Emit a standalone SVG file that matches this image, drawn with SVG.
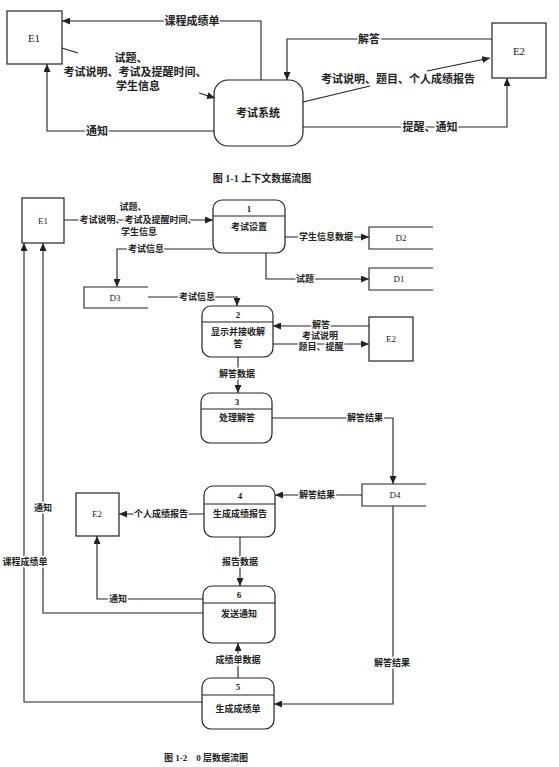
<svg xmlns="http://www.w3.org/2000/svg" width="559" height="767" viewBox="0 0 559 767">
<style>
rect{fill:none;stroke:#222;stroke-width:1.2}
.c{fill:none;stroke:#222;stroke-width:1.1}
text{font-family:"Liberation Serif","Noto Sans CJK SC",serif;font-weight:bold;fill:#222;text-anchor:middle;dominant-baseline:central}
.s{font-size:9px}
.m{font-size:11px}
.n{font-weight:normal}
.h{stroke:#fff;stroke-width:3;paint-order:stroke;stroke-linejoin:round}
</style>
<defs>
<marker id="a" markerWidth="8" markerHeight="7" refX="8" refY="3.5" orient="auto" markerUnits="userSpaceOnUse">
<path d="M0,0 L8,3.5 L0,7 z" fill="#222"/>
</marker>
</defs>

<!-- Figure 1-1 -->
<g id="top-E1"><rect x="7" y="11" width="55" height="53"/><text class="m n" x="34" y="38">E1</text></g>
<g id="top-system"><rect x="214" y="80" width="89" height="66" rx="14"/><text class="m" x="258" y="113">考试系统</text></g>
<g id="top-E2"><rect x="492" y="23" width="54" height="55"/><text class="m n" x="519" y="51">E2</text></g>

<g id="top-connectors">
<path class="c" d="M261,80 V21 H62" marker-end="url(#a)"/>
<path class="c" d="M62,48 L78,53"/>
<path class="c" d="M199,93 L215,98" marker-end="url(#a)"/>
<path class="c" d="M214,131 H47 V64" marker-end="url(#a)"/>
<path class="c" d="M492,39 H287 V80" marker-end="url(#a)"/>
<path class="c" d="M303,102 L370,86"/>
<path class="c" d="M427,71 L490,58" marker-end="url(#a)"/>
<path class="c" d="M303,127 H507 V78" marker-end="url(#a)"/>
<text class="m h" x="192" y="21">课程成绩单</text>
<text class="m" x="131" y="58">试题、</text>
<text class="m" x="135" y="72">考试说明、考试及提醒时间、</text>
<text class="m" x="138" y="86">学生信息</text>
<text class="m h" x="97" y="131">通知</text>
<text class="m h" x="369" y="39">解答</text>
<text class="m" x="398" y="79">考试说明、题目、个人成绩报告</text>
<text class="m h" x="430" y="127">提醒、通知</text>
</g>
<text x="262" y="178" style="font-size:10px">图 1-1 上下文数据流图</text>

<!-- Figure 1-2 -->
<g id="E1"><rect x="22" y="198" width="42" height="45"/><text class="s n" x="43" y="221">E1</text></g>
<g id="E2a"><rect x="369" y="317" width="44" height="44"/><text class="s n" x="391" y="339">E2</text></g>
<g id="E2b"><rect x="76" y="493" width="43" height="43"/><text class="s n" x="97" y="514">E2</text></g>

<g id="P1"><rect x="213" y="200" width="72" height="53" rx="9"/><path class="c" d="M213,216 H285"/><text class="s" x="249" y="209">1</text><text class="s" x="249" y="227">考试设置</text></g>
<g id="P2"><rect x="202" y="306" width="71" height="51" rx="9"/><path class="c" d="M202,322 H273"/><text class="s" x="238" y="315">2</text><text class="s" x="238" y="332">显示并接收解</text><text class="s" x="238" y="344">答</text></g>
<g id="P3"><rect x="201" y="393" width="71" height="50" rx="9"/><path class="c" d="M201,409 H272"/><text class="s" x="237" y="402">3</text><text class="s" x="237" y="418">处理解答</text></g>
<g id="P4"><rect x="204" y="486" width="71" height="51" rx="9"/><path class="c" d="M204,504 H275"/><text class="s" x="240" y="496">4</text><text class="s" x="240" y="514">生成成绩报告</text></g>
<g id="P6"><rect x="203" y="586" width="72" height="57" rx="9"/><path class="c" d="M203,603 H275"/><text class="s" x="239" y="595">6</text><text class="s" x="239" y="614">发送通知</text></g>
<g id="P5"><rect x="202" y="678" width="72" height="51" rx="9"/><path class="c" d="M202,695 H274"/><text class="s" x="238" y="687">5</text><text class="s" x="238" y="709">生成成绩单</text></g>

<g id="D2"><path class="c" d="M433,227 H369 V249 H433"/><text class="s n" x="401" y="238">D2</text></g>
<g id="D1"><path class="c" d="M433,268 H369 V290 H433"/><text class="s n" x="399" y="279">D1</text></g>
<g id="D3"><path class="c" d="M148,287 H84 V308 H148"/><text class="s n" x="115" y="298">D3</text></g>
<g id="D4"><path class="c" d="M426,484 H362 V506 H426"/><text class="s n" x="395" y="495">D4</text></g>

<g id="connectors">
<path class="c" d="M64,220 H213" marker-end="url(#a)"/>
<path class="c" d="M213,249 H117 V287" marker-end="url(#a)"/>
<path class="c" d="M285,237 H369" marker-end="url(#a)"/>
<path class="c" d="M266,253 V279 H369" marker-end="url(#a)"/>
<path class="c" d="M148,297 H237 V306" marker-end="url(#a)"/>
<path class="c" d="M369,326 H273" marker-end="url(#a)"/>
<path class="c" d="M273,344 H369" marker-end="url(#a)"/>
<path class="c" d="M238,357 V393" marker-end="url(#a)"/>
<path class="c" d="M272,418 H393 V484" marker-end="url(#a)"/>
<path class="c" d="M362,495 H275" marker-end="url(#a)"/>
<path class="c" d="M204,514 H119" marker-end="url(#a)"/>
<path class="c" d="M240,537 V586" marker-end="url(#a)"/>
<path class="c" d="M203,599 H97 V536" marker-end="url(#a)"/>
<path class="c" d="M203,613 H43 V243" marker-end="url(#a)"/>
<path class="c" d="M202,702 H24 V243" marker-end="url(#a)"/>
<path class="c" d="M238,678 V643" marker-end="url(#a)"/>
<path class="c" d="M393,506 V704 H274" marker-end="url(#a)"/>

<text class="s" x="133" y="207">试题、</text>
<text class="s h" x="138" y="220">考试说明、考试及提醒时间、</text>
<text class="s" x="139" y="232">学生信息</text>
<text class="s h" x="146" y="249">考试信息</text>
<text class="s h" x="326" y="237">学生信息数据</text>
<text class="s h" x="305" y="279">试题</text>
<text class="s h" x="197" y="297">考试信息</text>
<text class="s h" x="321" y="325">解答</text>
<text class="s" x="320" y="336">考试说明</text>
<text class="s h" x="321" y="347">题目、提醒</text>
<text class="s h" x="237" y="374">解答数据</text>
<text class="s h" x="365" y="418">解答结果</text>
<text class="s h" x="317" y="495">解答结果</text>
<text class="s h" x="161" y="514">个人成绩报告</text>
<text class="s h" x="240" y="562">报告数据</text>
<text class="s h" x="118" y="599">通知</text>
<text class="s h" x="43" y="508">通知</text>
<text class="s h" x="25" y="562">课程成绩单</text>
<text class="s h" x="238" y="660">成绩单数据</text>
<text class="s h" x="392" y="663">解答结果</text>
</g>
<text class="s" x="206" y="758">图 1-2　0 层数据流图</text>
</svg>
